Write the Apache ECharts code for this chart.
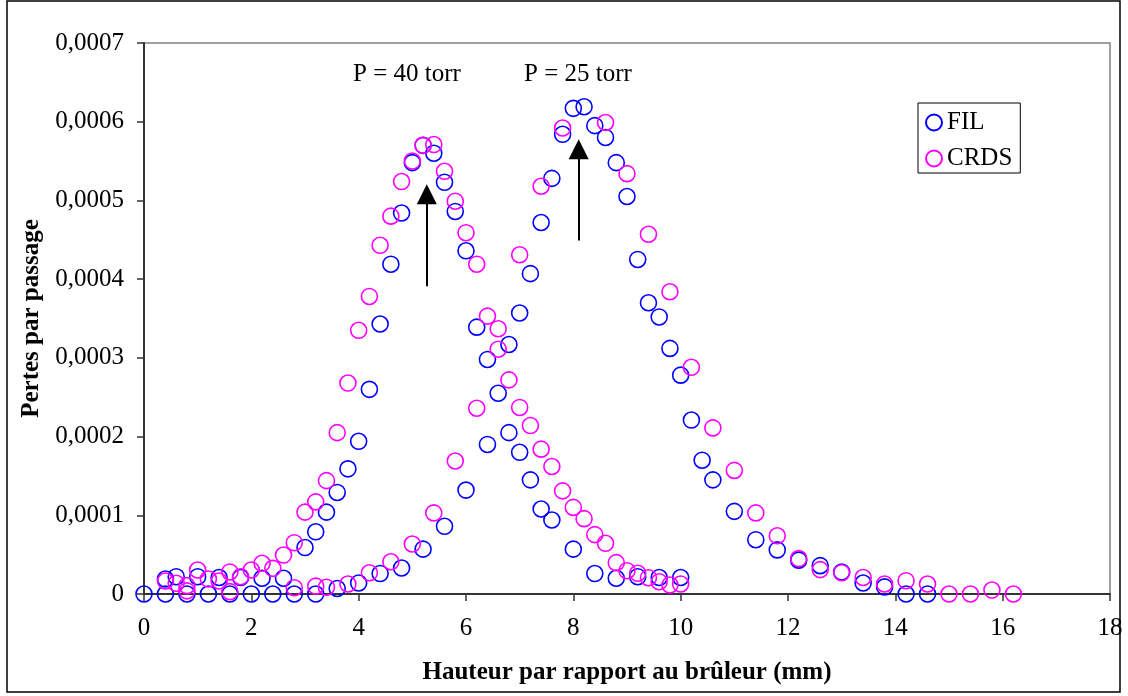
<!DOCTYPE html>
<html>
<head>
<meta charset="utf-8">
<script src="https://cdn.jsdelivr.net/npm/echarts@6/dist/echarts.min.js"></script>
<style>
html,body{margin:0;padding:0;background:#fff;}
#chart{width:1128px;height:696px;}
</style>
</head>
<body>
<div id="chart"></div>
<script>
// ---- Data ----
// FIL, P = 40 torr
var fil40X = [0.4,0.6,1.0,1.4,1.8,2.2,2.6,3.0,3.2,3.4,3.6,3.8,4.0,4.2,4.4,4.6,4.8,5.0,5.2,5.4,5.6,5.8,6.0,6.2,6.4,6.6,6.8,7.0,7.2,7.4,7.6,8.0,8.4,8.8,9.2,9.6,10.0];
var fil40Y = [0.000019,0.000022,0.000022,0.000021,0.000021,0.00002,0.00002,0.000059,0.000079,0.000104,0.000129,0.000159,0.000194,0.00026,0.000343,0.000419,0.000484,0.000548,0.00057,0.00056,0.000523,0.000486,0.000436,0.000339,0.000298,0.000255,0.000205,0.00018,0.000145,0.000108,0.000094,0.000057,0.000026,0.00002,0.000022,0.000021,0.000021];
// FIL, P = 25 torr
var fil25X = [0,0.4,0.8,1.2,1.6,2.0,2.4,2.8,3.2,3.6,4.0,4.4,4.8,5.2,5.6,6.0,6.4,6.8,7.0,7.2,7.4,7.6,7.8,8.0,8.2,8.4,8.6,8.8,9.0,9.2,9.4,9.6,9.8,10.0,10.2,10.4,10.6,11.0,11.4,11.8,12.2,12.6,13.0,13.4,13.8,14.2,14.6];
var fil25Y = [0,0,0,0,0,0,0,0,0,0.000007,0.000014,0.000026,0.000033,0.000057,0.000086,0.000132,0.00019,0.000317,0.000357,0.000407,0.000472,0.000528,0.000584,0.000617,0.000619,0.000595,0.00058,0.000548,0.000505,0.000425,0.00037,0.000352,0.000312,0.000278,0.000221,0.00017,0.000145,0.000105,0.000069,0.000056,0.000043,0.000036,0.000028,0.000014,0.000009,0,0];
// CRDS, P = 40 torr
var crds40X = [0.4,0.6,0.8,1.0,1.2,1.4,1.6,1.8,2.0,2.2,2.4,2.6,2.8,3.0,3.2,3.4,3.6,3.8,4.0,4.2,4.4,4.6,4.8,5.0,5.2,5.4,5.6,5.8,6.0,6.2,6.4,6.6,6.8,7.0,7.2,7.4,7.6,7.8,8.0,8.2,8.4,8.6,8.8,9.0,9.2,9.4,9.6,9.8,10.0];
var crds40Y = [0.0000165,0.0000136,0.0000106,0.0000305,0.000019,0.0000165,0.000028,0.000022,0.0000305,0.000039,0.0000326,0.0000495,0.0000652,0.000104,0.000117,0.000144,0.000205,0.000268,0.000335,0.000378,0.000443,0.00048,0.000524,0.00055,0.00057,0.000571,0.000537,0.000499,0.000459,0.000419,0.000353,0.000337,0.000272,0.000237,0.000214,0.000184,0.000162,0.000131,0.00011,0.0000957,0.0000754,0.0000644,0.0000398,0.0000296,0.0000263,0.0000207,0.0000156,0.0000114,0.0000127];
// CRDS, P = 25 torr
var crds25X = [0.8,1.6,2.8,3.2,3.4,3.8,4.2,4.6,5.0,5.4,5.8,6.2,6.6,7.0,7.4,7.8,8.6,9.0,9.4,9.8,10.2,10.6,11.0,11.4,11.8,12.2,12.6,13.0,13.4,13.8,14.2,14.6,15.0,15.4,15.8,16.2];
var crds25Y = [0.000004,0.000003,0.000008,0.00001,0.0000085,0.0000127,0.000027,0.000041,0.0000635,0.000103,0.000169,0.000236,0.000311,0.000431,0.000518,0.000592,0.000599,0.000534,0.000457,0.000384,0.000288,0.000211,0.000157,0.000103,0.000074,0.000045,0.000031,0.000027,0.000021,0.0000127,0.0000169,0.0000127,0,0,0.000005,0];

var seriesNames = ['FIL','CRDS'];
var annotations = ['P = 40 torr','P = 25 torr'];
var xTitle = 'Hauteur par rapport au brûleur (mm)';
var yTitle = 'Pertes par passage';
// arrow annotations: [x, yStart, yEnd]
var arrow40 = [5.27, 0.000391, 0.000508];
var arrow25 = [8.10, 0.000449, 0.000565];

function zip(xs, ys){ var out=[]; for(var i=0;i<xs.length;i++){ out.push([xs[i], ys[i]]); } return out; }

var FONT = '"Liberation Serif", "Times New Roman", serif';
var chart = echarts.init(document.getElementById('chart'), null, {renderer:'canvas'});

var option = {
  backgroundColor: '#ffffff',
  animation: false,
  grid: {left:144, right:18, top:43, bottom:102, show:true, borderColor:'#808080', borderWidth:1.5, backgroundColor:'transparent'},
  legend: {
    orient:'vertical', left:918, top:103,
    data: seriesNames,
    backgroundColor:'#ffffff', borderColor:'#000000', borderWidth:1,
    padding:[7,8,2,7], itemGap:11, itemWidth:16, itemHeight:16,
    textStyle:{fontFamily:FONT, fontSize:25, color:'#000'}
  },
  xAxis: {
    type:'value', min:0, max:18, interval:2,
    name: xTitle, nameLocation:'middle', nameGap:66,
    nameTextStyle:{fontFamily:FONT, fontSize:25, fontWeight:'bold', color:'#000'},
    axisLine:{show:true, onZero:false, lineStyle:{color:'#333', width:2}},
    axisTick:{show:true, inside:false, length:7, lineStyle:{color:'#333', width:1.5}},
    axisLabel:{fontFamily:FONT, fontSize:25, color:'#000', margin:22},
    splitLine:{show:false}
  },
  yAxis: {
    type:'value', min:0, max:0.0007, interval:0.0001,
    name: yTitle, nameLocation:'middle', nameGap:97, nameRotate:90,
    nameTextStyle:{fontFamily:FONT, fontSize:25, fontWeight:'bold', color:'#000'},
    axisLine:{show:true, onZero:false, lineStyle:{color:'#333', width:2}},
    axisTick:{show:true, inside:false, length:7, lineStyle:{color:'#333', width:1.5}},
    axisLabel:{fontFamily:FONT, fontSize:25, color:'#000', margin:20,
      formatter:function(v){ return v===0 ? '0' : v.toFixed(4).replace('.', ','); }},
    splitLine:{show:false}
  },
  series: [
    {
      name: seriesNames[0], type:'scatter', symbol:'circle', symbolSize:16,
      data: zip(fil40X, fil40Y).concat(zip(fil25X, fil25Y)),
      itemStyle:{color:'rgba(0,0,0,0)', borderColor:'#0000ff', borderWidth:1.6, opacity:1},
      emphasis:{disabled:true},
      markLine:{
        silent:true, symbol:['none','triangle'], symbolSize:20,
        label:{show:false},
        lineStyle:{color:'#000', width:2, type:'solid'},
        itemStyle:{color:'#000'},
        data:[
          [{coord:[arrow40[0], arrow40[1]]},{coord:[arrow40[0], arrow40[2]]}],
          [{coord:[arrow25[0], arrow25[1]]},{coord:[arrow25[0], arrow25[2]]}]
        ]
      }
    },
    {
      name: seriesNames[1], type:'scatter', symbol:'circle', symbolSize:16,
      data: zip(crds40X, crds40Y).concat(zip(crds25X, crds25Y)),
      itemStyle:{color:'rgba(0,0,0,0)', borderColor:'#ff00ff', borderWidth:1.6, opacity:1},
      emphasis:{disabled:true}
    }
  ],
  graphic: [
    {type:'rect', silent:true, z:-1, shape:{x:7, y:1, width:1113, height:691}, style:{fill:'none', stroke:'#000', lineWidth:1.5}},
    {type:'text', silent:true, x:407, y:74, style:{text:annotations[0], font:'25px ' + FONT, fill:'#000', align:'center', verticalAlign:'middle'}},
    {type:'text', silent:true, x:578, y:74, style:{text:annotations[1], font:'25px ' + FONT, fill:'#000', align:'center', verticalAlign:'middle'}}
  ]
};
chart.setOption(option);
</script>
</body>
</html>
